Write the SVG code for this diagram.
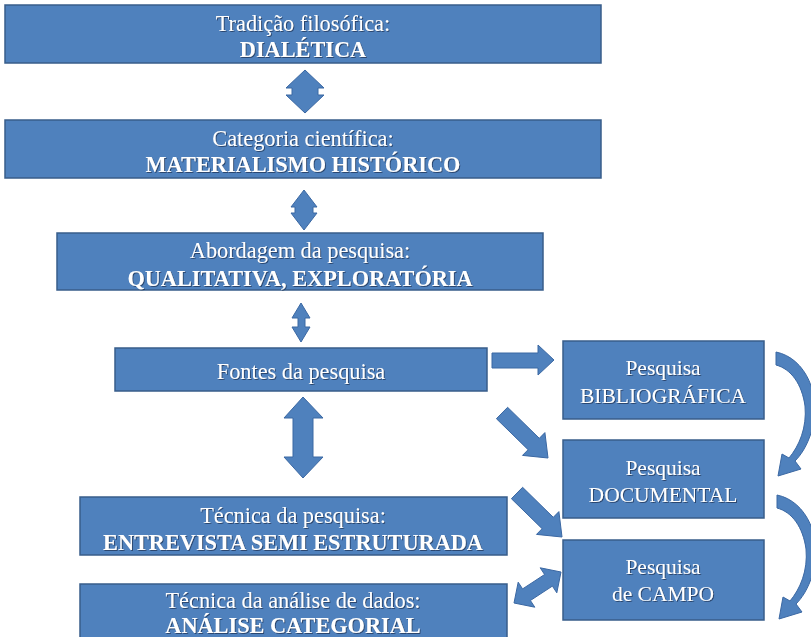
<svg xmlns="http://www.w3.org/2000/svg" width="811" height="637" viewBox="0 0 811 637">
<defs>
<filter id="sh" x="-5%" y="-20%" width="110%" height="140%">
<feDropShadow dx="1" dy="1" stdDeviation="0.6" flood-color="#1a2f4f" flood-opacity="0.7"/>
</filter>
<path id="curve" d="M 776,352 C 806,358 822,396 812,430 C 807,447 800,456 795,461 L 801,469 L 778,476 L 782,454 L 789,458 C 799,446 807,428 805,406 C 802,384 791,369 776,365 Z"/>
</defs>
<style>
.box{fill:#4F81BD;stroke:#385D8A;stroke-width:1.5}
.arr{fill:#4F81BD;stroke:#3B68A3;stroke-width:1}
text{font-family:"Liberation Serif","Times New Roman",serif;font-size:22.3px;fill:#ffffff;text-anchor:middle;filter:url(#sh)}
.b{font-weight:bold}
.sm{font-size:21.5px}
</style>
<rect width="811" height="637" fill="#ffffff"/>
<g id="connectors">
<polygon class="arr" points="305,70 324,88 318,88 318,95 324,95 305,113 286,95 292,95 292,88 286,88"/>
<polygon class="arr" points="304,190 317,207 313,207 313,213 317,213 304,230 291,213 295,213 295,207 291,207"/>
<polygon class="arr" points="301,303 310,318 305,318 305,327 310,327 301,342 292,327 298,327 298,318 292,318"/>
<polygon class="arr" points="303,397 323,418 313,418 313,457 323,457 303,478 284,457 293,457 293,418 284,418"/>
<polygon class="arr" points="492,353 538,353 538,345 554,360 538,375 538,368 492,368"/>
<polygon class="arr" points="507.6,407.3 539.3,438.3 544.9,432.6 548,458 522.5,455.4 528.1,449.7 496.4,418.7"/>
<polygon class="arr" points="522.6,487.3 553.3,517.3 558.9,511.6 562,537 536.5,534.4 542.1,528.7 511.4,498.7"/>
<polygon class="arr" points="514,603 534.8,607.2 530.4,600.5 552.4,586.1 556.8,592.8 561,572 540.2,567.8 544.6,574.5 522.6,588.9 518.2,582.2"/>
<use href="#curve" class="arr"/>
<use href="#curve" class="arr" transform="translate(1,143)"/>
</g>
<g id="n1"><rect class="box" x="5" y="5" width="596" height="58"/><text x="303" y="31">Tradição filosófica:</text><text class="b" x="303" y="57">DIALÉTICA</text></g>
<g id="n2"><rect class="box" x="5" y="120" width="596" height="58"/><text x="303" y="146">Categoria científica:</text><text class="b" x="303" y="172">MATERIALISMO HISTÓRICO</text></g>
<g id="n3"><rect class="box" x="57" y="233" width="486" height="57"/><text x="300" y="258">Abordagem da pesquisa:</text><text class="b" x="300" y="286">QUALITATIVA, EXPLORATÓRIA</text></g>
<g id="n4"><rect class="box" x="115" y="348" width="372" height="43"/><text x="301" y="379">Fontes da pesquisa</text></g>
<g id="n5"><rect class="box" x="80" y="497" width="427" height="58"/><text x="293" y="523">Técnica da pesquisa:</text><text class="b" x="293" y="550">ENTREVISTA SEMI ESTRUTURADA</text></g>
<g id="n6"><rect class="box" x="80" y="584" width="427" height="62"/><text x="293" y="608">Técnica da análise de dados:</text><text class="b" x="293" y="633">ANÁLISE CATEGORIAL</text></g>
<g id="n7"><rect class="box" x="563" y="341" width="201" height="78"/><text class="sm" x="663" y="375">Pesquisa</text><text class="sm" x="663" y="403">BIBLIOGRÁFICA</text></g>
<g id="n8"><rect class="box" x="563" y="440" width="201" height="78"/><text class="sm" x="663" y="475">Pesquisa</text><text class="sm" x="663" y="502">DOCUMENTAL</text></g>
<g id="n9"><rect class="box" x="563" y="540" width="201" height="80"/><text class="sm" x="663" y="574">Pesquisa</text><text class="sm" x="663" y="601">de CAMPO</text></g>
</svg>
